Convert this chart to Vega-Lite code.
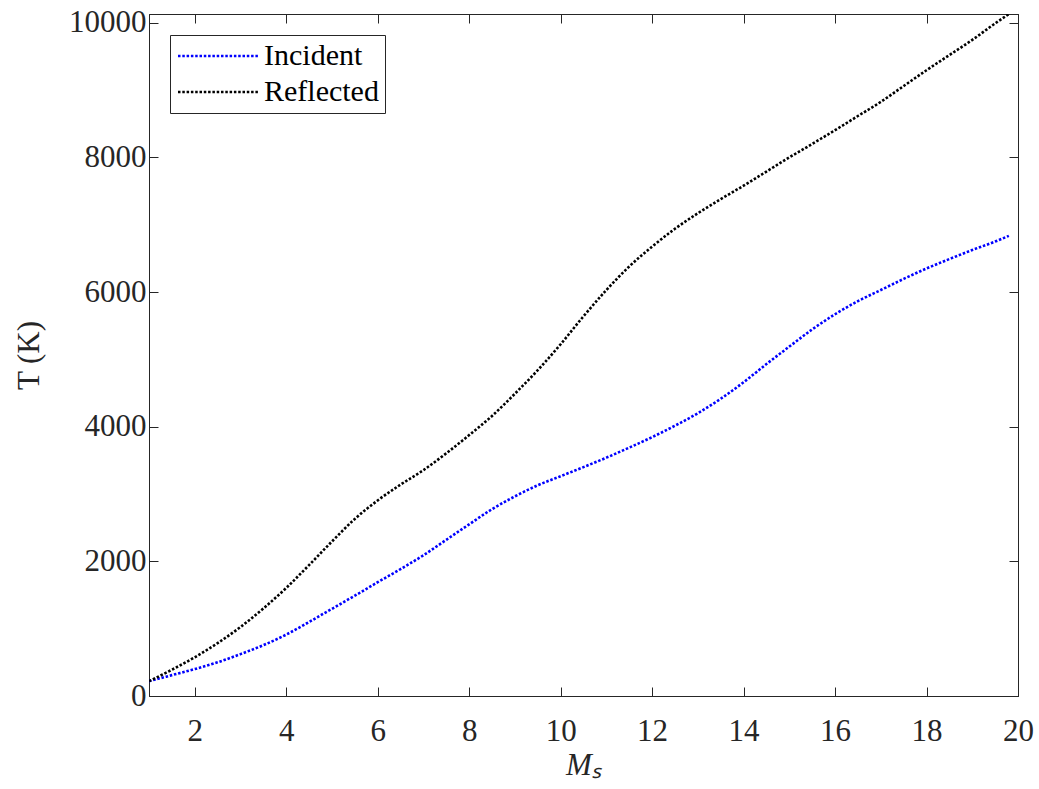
{
  "$schema": "https://vega.github.io/schema/vega-lite/v6.json",
  "width": 869,
  "height": 682,
  "autosize": {"type": "none"},
  "padding": {"left": 149, "top": 14, "right": 21, "bottom": 93},
  "background": "white",
  "config": {
    "font": "Liberation Serif",
    "view": {"stroke": "#262626", "strokeWidth": 1},
    "axis": {
      "grid": false,
      "domainColor": "#262626",
      "tickColor": "#262626",
      "labelColor": "#262626",
      "titleColor": "#262626",
      "labelFont": "Liberation Serif",
      "titleFont": "Liberation Serif",
      "labelFontSize": 31,
      "titleFontSize": 31,
      "titleFontWeight": "normal",
      "labelFlush": false,
      "tickSize": -9,
      "tickWidth": 1,
      "domainWidth": 1
    }
  },
  "data": {
    "values": [
      {"Ms": 1, "T": 220, "series": "Incident"},
      {"Ms": 1.5, "T": 310, "series": "Incident"},
      {"Ms": 2, "T": 400, "series": "Incident"},
      {"Ms": 2.5, "T": 500, "series": "Incident"},
      {"Ms": 3, "T": 622, "series": "Incident"},
      {"Ms": 3.5, "T": 755, "series": "Incident"},
      {"Ms": 4, "T": 912, "series": "Incident"},
      {"Ms": 4.5, "T": 1100, "series": "Incident"},
      {"Ms": 5, "T": 1295, "series": "Incident"},
      {"Ms": 5.5, "T": 1490, "series": "Incident"},
      {"Ms": 6, "T": 1690, "series": "Incident"},
      {"Ms": 6.5, "T": 1885, "series": "Incident"},
      {"Ms": 7, "T": 2090, "series": "Incident"},
      {"Ms": 7.5, "T": 2320, "series": "Incident"},
      {"Ms": 8, "T": 2550, "series": "Incident"},
      {"Ms": 8.5, "T": 2775, "series": "Incident"},
      {"Ms": 9, "T": 2965, "series": "Incident"},
      {"Ms": 9.5, "T": 3130, "series": "Incident"},
      {"Ms": 10, "T": 3265, "series": "Incident"},
      {"Ms": 10.5, "T": 3400, "series": "Incident"},
      {"Ms": 11, "T": 3540, "series": "Incident"},
      {"Ms": 11.5, "T": 3690, "series": "Incident"},
      {"Ms": 12, "T": 3845, "series": "Incident"},
      {"Ms": 12.5, "T": 4015, "series": "Incident"},
      {"Ms": 13, "T": 4200, "series": "Incident"},
      {"Ms": 13.5, "T": 4415, "series": "Incident"},
      {"Ms": 14, "T": 4660, "series": "Incident"},
      {"Ms": 14.5, "T": 4930, "series": "Incident"},
      {"Ms": 15, "T": 5190, "series": "Incident"},
      {"Ms": 15.5, "T": 5445, "series": "Incident"},
      {"Ms": 16, "T": 5670, "series": "Incident"},
      {"Ms": 16.5, "T": 5865, "series": "Incident"},
      {"Ms": 17, "T": 6030, "series": "Incident"},
      {"Ms": 17.5, "T": 6195, "series": "Incident"},
      {"Ms": 18, "T": 6350, "series": "Incident"},
      {"Ms": 18.5, "T": 6490, "series": "Incident"},
      {"Ms": 19, "T": 6625, "series": "Incident"},
      {"Ms": 19.5, "T": 6750, "series": "Incident"},
      {"Ms": 19.8, "T": 6835, "series": "Incident"},
      {"Ms": 1, "T": 220, "series": "Reflected"},
      {"Ms": 1.5, "T": 390, "series": "Reflected"},
      {"Ms": 2, "T": 575, "series": "Reflected"},
      {"Ms": 2.5, "T": 785, "series": "Reflected"},
      {"Ms": 3, "T": 1025, "series": "Reflected"},
      {"Ms": 3.5, "T": 1300, "series": "Reflected"},
      {"Ms": 4, "T": 1605, "series": "Reflected"},
      {"Ms": 4.5, "T": 1945, "series": "Reflected"},
      {"Ms": 5, "T": 2295, "series": "Reflected"},
      {"Ms": 5.5, "T": 2630, "series": "Reflected"},
      {"Ms": 6, "T": 2905, "series": "Reflected"},
      {"Ms": 6.5, "T": 3140, "series": "Reflected"},
      {"Ms": 7, "T": 3355, "series": "Reflected"},
      {"Ms": 7.5, "T": 3605, "series": "Reflected"},
      {"Ms": 8, "T": 3875, "series": "Reflected"},
      {"Ms": 8.5, "T": 4160, "series": "Reflected"},
      {"Ms": 9, "T": 4490, "series": "Reflected"},
      {"Ms": 9.5, "T": 4840, "series": "Reflected"},
      {"Ms": 10, "T": 5225, "series": "Reflected"},
      {"Ms": 10.5, "T": 5640, "series": "Reflected"},
      {"Ms": 11, "T": 6030, "series": "Reflected"},
      {"Ms": 11.5, "T": 6380, "series": "Reflected"},
      {"Ms": 12, "T": 6675, "series": "Reflected"},
      {"Ms": 12.5, "T": 6940, "series": "Reflected"},
      {"Ms": 13, "T": 7170, "series": "Reflected"},
      {"Ms": 13.5, "T": 7380, "series": "Reflected"},
      {"Ms": 14, "T": 7580, "series": "Reflected"},
      {"Ms": 14.5, "T": 7790, "series": "Reflected"},
      {"Ms": 15, "T": 8000, "series": "Reflected"},
      {"Ms": 15.5, "T": 8200, "series": "Reflected"},
      {"Ms": 16, "T": 8405, "series": "Reflected"},
      {"Ms": 16.5, "T": 8615, "series": "Reflected"},
      {"Ms": 17, "T": 8825, "series": "Reflected"},
      {"Ms": 17.5, "T": 9060, "series": "Reflected"},
      {"Ms": 18, "T": 9295, "series": "Reflected"},
      {"Ms": 18.5, "T": 9520, "series": "Reflected"},
      {"Ms": 19, "T": 9745, "series": "Reflected"},
      {"Ms": 19.5, "T": 9990, "series": "Reflected"},
      {"Ms": 19.8, "T": 10130, "series": "Reflected"}
    ]
  },
  "layer": [
    {
      "mark": {"type": "line", "strokeDash": [2.5, 1.8], "strokeWidth": 2.6, "interpolate": "monotone", "clip": true},
      "encoding": {
        "x": {
          "field": "Ms", "type": "quantitative",
          "scale": {"domain": [1, 20], "nice": false, "zero": false},
          "axis": {"orient": "bottom", "values": [2, 4, 6, 8, 10, 12, 14, 16, 18, 20], "labelPadding": 29, "title": "Mₛ", "titleFontStyle": "italic", "titlePadding": 4}
        },
        "y": {
          "field": "T", "type": "quantitative",
          "scale": {"domain": [0, 10130], "nice": false},
          "axis": {"orient": "left", "values": [0, 2000, 4000, 6000, 8000, 10000], "format": "d", "labelPadding": 12, "title": "T (K)", "titlePadding": 23}
        },
        "color": {
          "field": "series", "type": "nominal",
          "scale": {"domain": ["Incident", "Reflected"], "range": ["#0000ff", "#000000"]},
          "legend": {
            "orient": "none", "legendX": 21, "legendY": 21, "title": null,
            "symbolType": "M-1.3,0H6.7", "symbolSize": 400, "symbolStrokeWidth": 2.6, "symbolDash": [2.5, 1.8],
            "labelFont": "Liberation Serif", "labelFontSize": 30, "labelColor": "#000000", "labelOffset": 58,
            "strokeColor": "#262626", "fillColor": "white", "padding": 6, "rowPadding": 6
          }
        }
      }
    },
    {
      "mark": {"type": "point", "opacity": 0},
      "encoding": {
        "x": {
          "field": "Ms", "type": "quantitative",
          "axis": {"orient": "top", "values": [2, 4, 6, 8, 10, 12, 14, 16, 18, 20], "labels": false, "title": null}
        },
        "y": {
          "field": "T", "type": "quantitative",
          "axis": {"orient": "right", "values": [0, 2000, 4000, 6000, 8000, 10000], "labels": false, "title": null}
        }
      }
    }
  ],
  "resolve": {"axis": {"x": "independent", "y": "independent"}}
}
